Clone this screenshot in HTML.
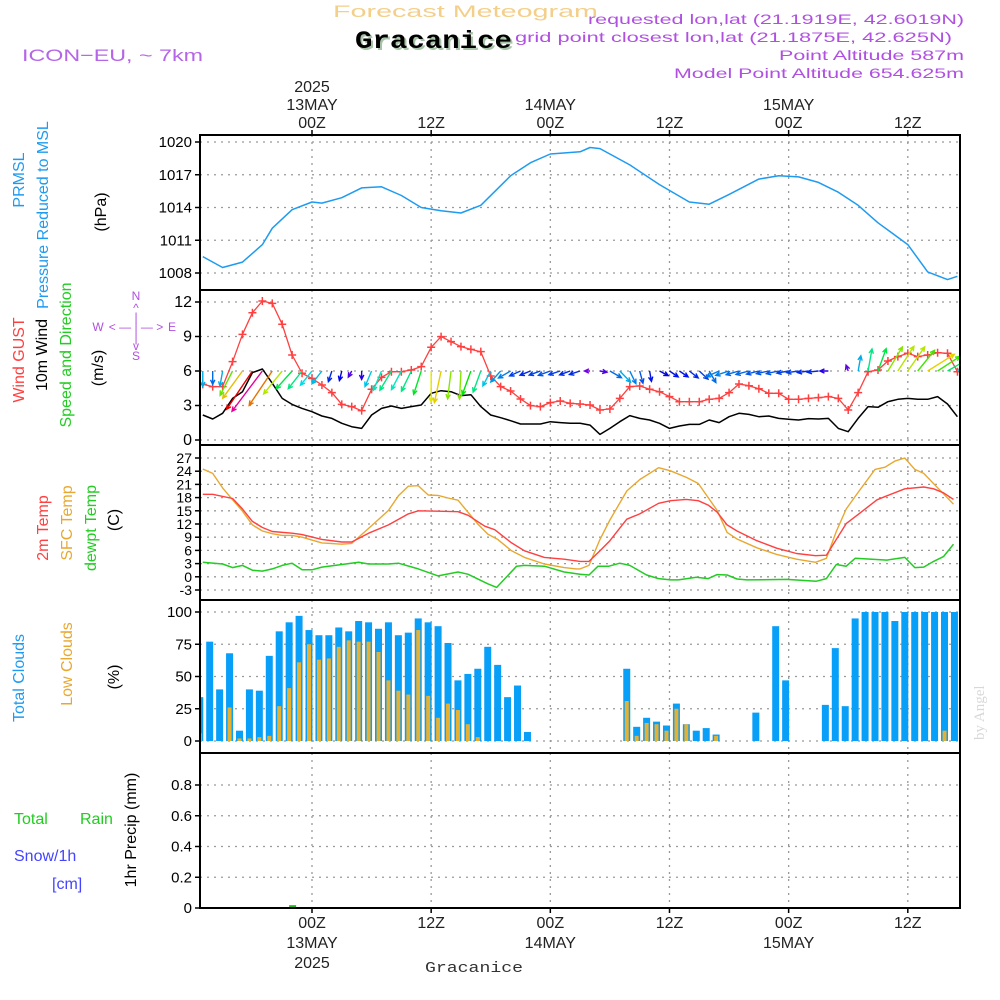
<!DOCTYPE html>
<html><head><meta charset="utf-8"><style>
html,body{margin:0;padding:0;background:#fff;}
svg{display:block;font-family:"Liberation Sans",sans-serif;}
</style></head><body>
<svg id="chart" width="1000" height="1000" viewBox="0 0 1000 1000" xmlns="http://www.w3.org/2000/svg">
<rect width="1000" height="1000" fill="#fff"/>
<text x="333" y="17" fill="#f3cf8a" font-size="17" textLength="265" lengthAdjust="spacingAndGlyphs">Forecast Meteogram</text>
<text x="357" y="50" fill="#a8c4a8" font-family="Liberation Mono" font-weight="bold" font-size="25" textLength="157" lengthAdjust="spacingAndGlyphs">Gracanice</text>
<text x="355" y="48" fill="#000" font-family="Liberation Mono" font-weight="bold" font-size="25" textLength="157" lengthAdjust="spacingAndGlyphs">Gracanice</text>
<text x="22" y="61" fill="#b565e8" font-size="17" textLength="181" lengthAdjust="spacingAndGlyphs">ICON−EU, ~ 7km</text>
<g fill="#b050e0" font-size="14">
<text x="588" y="24" textLength="376" lengthAdjust="spacingAndGlyphs">requested lon,lat (21.1919E, 42.6019N)</text>
<text x="515" y="42" textLength="437" lengthAdjust="spacingAndGlyphs">grid point closest lon,lat (21.1875E, 42.625N)</text>
<text x="779" y="60" textLength="185" lengthAdjust="spacingAndGlyphs">Point Altitude 587m</text>
<text x="674" y="78" textLength="290" lengthAdjust="spacingAndGlyphs">Model Point Altitude 654.625m</text>
</g>
<text transform="translate(984,740) rotate(-90)" fill="#d8d8d8" font-family="Liberation Serif" font-size="15">by Angel</text>
<text x="425" y="972" fill="#333" font-family="Liberation Mono" font-size="15" textLength="98" lengthAdjust="spacingAndGlyphs">Gracanice</text>
<g font-size="16" text-anchor="middle">
<text transform="translate(24,180) rotate(-90)" fill="#1e9bf0">PRMSL</text>
<text transform="translate(48,215) rotate(-90)" fill="#1e9bf0">Pressure Reduced to MSL</text>
<text transform="translate(106,212) rotate(-90)" fill="#000">(hPa)</text>
<text transform="translate(24,360) rotate(-90)" fill="#ff4040">Wind GUST</text>
<text transform="translate(47,355) rotate(-90)" fill="#000">10m Wind</text>
<text transform="translate(71,355) rotate(-90)" fill="#22cc22">Speed and Direction</text>
<text transform="translate(103,368) rotate(-90)" fill="#000">(m/s)</text>
<text transform="translate(48,528) rotate(-90)" fill="#ff4040">2m Temp</text>
<text transform="translate(72,523) rotate(-90)" fill="#e8a830">SFC Temp</text>
<text transform="translate(96,528) rotate(-90)" fill="#22cc22">dewpt Temp</text>
<text transform="translate(119,520) rotate(-90)" fill="#000">(C)</text>
<text transform="translate(24,678) rotate(-90)" fill="#1e9bf0">Total Clouds</text>
<text transform="translate(72,664) rotate(-90)" fill="#e8a830">Low Clouds</text>
<text transform="translate(119,677) rotate(-90)" fill="#000">(%)</text>
<text transform="translate(136,830) rotate(-90)" fill="#000">1hr Precip (mm)</text>
</g>
<g font-size="16">
<text x="14" y="824" fill="#22cc22">Total</text>
<text x="80" y="824" fill="#22cc22">Rain</text>
<text x="14" y="861" fill="#4444ff">Snow/1h</text>
<text x="52" y="889" fill="#4444ff">[cm]</text>
</g>
<g fill="#b050e0" font-size="12" text-anchor="middle">
<text x="136" y="300">N</text><text x="136" y="312">^</text><text x="136" y="321">|</text>
<text x="98" y="331">W</text><text x="136" y="331">&lt; — | — &gt;</text><text x="172" y="331">E</text>
<text x="136" y="342">|</text><text x="136" y="350">v</text><text x="136" y="360">S</text>
</g>
<g id="plot"></g>
</svg>
<script>
const timeTickHours = [0, 12, 24, 36, 48, 60];
const timeTickLabels = ["00Z", "12Z", "00Z", "12Z", "00Z", "12Z"];
const dateTickHours = [0, 24, 48];
const dateTickLabels = ["13MAY", "14MAY", "15MAY"];
const startHour = -11;

const pressHours = [-11,-9,-7,-5,-4,-2,0,1,3,5,7,9,11,13,15,17,20,22,24,27,28,29,32,35,38,40,42,45,47,49,51,53,55,57,60,62,64,65];
const pressVals = [1009.5,1008.5,1009.0,1010.6,1012.1,1013.8,1014.5,1014.4,1014.9,1015.8,1015.9,1015.1,1014.0,1013.7,1013.5,1014.2,1016.9,1018.1,1018.9,1019.1,1019.5,1019.4,1017.9,1016.1,1014.5,1014.3,1015.2,1016.6,1016.9,1016.8,1016.3,1015.4,1014.2,1012.6,1010.6,1008.1,1007.4,1007.7];
const pressTicks = [1008, 1011, 1014, 1017, 1020];

const gustVals = [4.84,4.64,4.64,6.81,9.19,11.07,12.09,11.88,10.06,7.39,5.80,5.36,4.78,4.12,3.10,2.90,2.55,4.41,5.45,5.94,5.94,6.09,6.38,8.06,8.99,8.55,8.12,7.88,7.68,5.57,4.64,4.26,3.57,2.99,2.90,3.25,3.39,3.19,3.13,
3.04,2.61,2.70,3.62,4.64,4.70,4.41,4.20,3.77,3.33,3.33,3.33,3.54,3.62,4.12,4.87,4.72,4.46,4.06,4.06,3.54,3.54,3.62,3.68,3.77,3.62,2.61,4.12,5.94,6.09,6.87,7.25,7.54,7.25,7.39,7.59,7.54,5.94];
const windVals = [2.17,1.83,2.32,3.62,4.20,5.86,6.17,4.93,3.62,3.10,2.75,2.46,2.09,1.88,1.45,1.16,1.01,2.17,2.75,2.96,2.75,2.90,3.04,4.06,4.29,4.20,3.86,3.94,2.90,2.17,1.94,1.68,1.39,1.39,1.39,1.59,1.51,1.45,1.45,
1.30,0.49,1.01,1.59,2.12,1.88,1.74,1.45,1.01,1.22,1.36,1.36,1.74,1.51,2.03,2.32,2.23,2.03,2.09,1.88,1.80,1.74,1.86,1.83,1.88,1.01,0.72,1.88,2.90,2.84,3.33,3.54,3.62,3.54,3.54,3.77,3.13,2.03];
const windTicks = [0, 3, 6, 9, 12];
const arrowHours = [-11,-10,-9,-8,-7,-6,-5,-4,-3,-2,-1,0,1,2,3,4,5,6,7,8,9,10,11,12,13,14,15,16,17,18,19,20,21,22,23,24,25,26,27,28,29,30,31,32,33,34,35,36,37,38,39,40,41,42,43,44,45,46,47,48,49,50,51,52,54,55,56,57,58,59,60,61,62,63,64,65];
const arrowDir = [180,180,190,207,216,214,217,214,219,222,218,219,218,198,194,209,180,203,203,211,208,206,198,180,192,187,183,200,200,208,222,240,246,248,250,250,252,250,252,270,100,120,136,154,165,170,118,124,124,128,133,150,246,252,254,255,256,258,258,260,262,262,264,270,340,10,10,20,31,33,35,39,58,57,60,45];
const arrowSpd = [2.2,1.9,2.2,3.9,4.8,6.6,7.2,5.9,4.2,3.4,3.2,2.6,2.3,1.6,1.4,1.0,1.2,2.4,3.0,3.2,3.0,3.2,3.5,4.4,4.6,4.0,4.0,3.6,3.2,2.4,2.1,2.0,1.7,1.6,1.7,1.8,1.7,1.6,1.6,0.8,1.0,1.9,2.2,2.0,1.8,1.5,1.4,1.5,1.5,1.6,1.7,1.9,2.0,2.0,1.9,1.9,1.8,1.8,1.8,1.7,1.7,1.6,1.6,1.2,0.9,2.2,3.2,3.4,4.0,4.2,4.2,3.8,4.5,3.8,3.3,2.5];

const t2Hours = [-11,-10,-8,-7,-6,-5,-4,-2,-1,1,3,4,5.7,7.7,9.7,10.7,12.7,14.7,15.7,17.4,18.4,20.1,21.4,23.4,25.4,27,27.9,29,30,31.7,33,34.9,36.1,37.7,38.9,39.9,40.8,41.8,42.8,44.8,46.8,48.8,50.7,51.8,53.8,54.9,56.9,57.9,59.7,61.6,62.6,63.6,64.6];
const t2Vals = [18.75,18.75,17.8,15.4,12.6,11.2,10.3,9.9,9.6,8.5,7.9,7.9,9.9,11.8,14.3,15.0,14.9,14.8,14.0,11.5,10.7,7.7,5.9,4.4,4.0,3.5,3.5,5.9,8.2,13.1,14.3,16.7,17.3,17.6,17.3,16.3,14.7,11.8,10.4,8.2,6.5,5.3,4.8,4.9,12.1,14.0,17.5,18.4,20.0,20.4,20.0,19.1,17.6];
const sfcHours = [-11,-10,-9,-8,-7,-6,-5,-4,-3,-2,-1,1,3,4,5.7,7.7,8.7,9.7,10.7,11.7,12.7,13.7,14.7,15.7,16.7,17.7,18.7,20.1,21.4,23.4,25.4,26.6,27,27.9,29,30,31.7,33,34.9,36.1,37.7,38.9,39.9,40.8,41.8,42.8,44.8,46.8,48.8,50.7,51.8,52.8,53.8,54.9,56.7,57.7,58.7,59.7,60.7,61.6,64.6];
const sfcVals = [24.5,23.5,20.2,17.5,14.9,11.8,10.4,9.8,9.4,9.4,9.0,7.7,7.4,7.6,11.0,15.1,18.4,20.6,20.7,18.6,18.5,17.9,17.4,14.7,12.0,9.7,8.5,5.9,4.4,2.9,2.1,1.8,1.8,2.6,8.5,12.9,19.5,22.1,24.8,24.1,22.6,21.2,18.0,15.1,10.1,8.6,6.6,5.1,4.0,3.3,4.2,10.3,15.4,18.9,24.4,24.9,26.3,27.0,24.4,23.5,16.5];
const dewHours = [-11,-9,-8,-7,-6,-5,-4,-3,-2,-1,0,1,3,4.7,5.7,7.7,8.7,10.7,12.7,14.7,15.7,17.7,18.6,20.6,21.4,23.4,25.4,27,27.9,28.8,29.9,31,32,33.7,34.9,36.1,36.9,38.7,39.9,40.8,41.8,42.8,43.8,47.8,50.8,51.8,52.8,53.8,54.7,57.9,59.7,60.7,61.6,62.6,63.6,64.6];
const dewVals = [3.3,2.9,2.1,2.6,1.5,1.3,1.8,2.6,3.1,1.6,1.6,2.2,2.8,3.3,2.9,2.9,3.1,1.8,0.2,1.1,0.6,-1.6,-2.4,2.4,2.6,2.4,1.1,0.6,0.4,2.4,2.4,3.1,2.6,0.4,-0.4,-0.7,-0.7,-0.1,-0.4,0.5,0.4,-0.5,-0.7,-0.6,-1.0,-0.4,2.8,2.4,4.2,3.8,4.4,2.1,2.2,3.5,4.6,7.4];
const tempTicks = [-3,0,3,6,9,12,15,18,21,24,27];

const totalCloud = [34,77,40,68,8,40,39,66,85,92,97,86,82,82,88,85,93,92,87,92,82,84,95,92,89,76,47,52,56,73,59,34,43,7,0,0,0,0,0,0,0,0,0,56,11,18,15,12,29,13,8,10,5,0,0,0,22,0,89,47,0,0,0,28,72,27,95,100,100,100,93,100,100,100,100,100,100];
const lowCloud = [6,0,0,26,2,2,3,4,27,41,61,75,63,64,73,78,77,77,69,47,39,36,86,35,18,29,24,13,3,0,0,0,0,0,0,0,0,0,0,0,0,0,0,31,4,14,13,8,25,13,0,0,4,0,0,0,0,0,0,0,0,0,0,0,0,0,0,0,0,0,0,0,0,0,0,8,0];
const cloudTicks = [0, 25, 50, 75, 100];

const precipHours = [-2];
const precipVals = [0.012];
const precipTicks = [0, 0.2, 0.4, 0.6, 0.8];
const precipTickLabels = ["0", "0.2", "0.4", "0.6", "0.8"];

const X0 = 200, X1 = 960;
const X = h => 312 + h * 9.93;
const panels = [
  {name:'pressure', top:135, bot:290, y:v => 273 - (v - 1008) * 131/12},
  {name:'wind', top:290, bot:445, y:v => 440 - v * 11.5},
  {name:'temperature', top:445, bot:600, y:v => 590 - (v + 3) * 4.4},
  {name:'clouds', top:600, bot:753, y:v => 741 - v * 1.29},
  {name:'precip', top:753, bot:908, y:v => 908 - v * 153.75}
];
const NS = 'http://www.w3.org/2000/svg';
const plot = document.getElementById('plot');
function mk(tag, attrs, parent) {
  const e = document.createElementNS(NS, tag);
  for (const k in attrs) e.setAttribute(k, attrs[k]);
  (parent || plot).appendChild(e);
  return e;
}
const defs = mk('defs', {});
const cp = mk('clipPath', {id:'clip'}, defs);
mk('rect', {x:X0+1, y:135, width:X1-X0-2, height:773}, cp);

panels.forEach((p) => {
  timeTickHours.forEach(h => {
    const l = mk('line', {x1:X(h), x2:X(h), y1:p.top, y2:p.bot, stroke:'#999', 'stroke-width':1.3, 'stroke-dasharray':'2,5'});
    
    
  });
});
function hgrid(p, ticks, labels, fs) {
  ticks.forEach((v, i) => {
    const y = p.y(v);
    const l = mk('line', {x1:X0, x2:X1, y1:y, y2:y, stroke:'#999', 'stroke-width':1.3, 'stroke-dasharray':'2,5'});
    
    
    const tk = mk('line', {x1:X0-5, x2:X0, y1:y, y2:y, stroke:'#000', 'stroke-width':1.5});
    
    
    const t = mk('text', {x:X0-8, y:y+5, 'text-anchor':'end', 'font-size':fs, fill:'#000'});
    t.textContent = labels ? labels[i] : String(v);
    
    
  });
}
hgrid(panels[0], pressTicks, null, 15);
hgrid(panels[1], windTicks, null, 16);
hgrid(panels[2], tempTicks, null, 14);
hgrid(panels[3], cloudTicks, null, 15);
hgrid(panels[4], precipTicks, precipTickLabels, 15);

const g = mk('g', {'clip-path':'url(#clip)'});
function poly(hours, vals, p, color, name, w) {
  const pts = hours.map((h, i) => X(h).toFixed(1) + ',' + p.y(vals[i]).toFixed(1)).join(' ');
  const e = mk('polyline', {points:pts, fill:'none', stroke:color, 'stroke-width':w || 1.4, 'stroke-linejoin':'round'}, g);
  
  
  return e;
}
const hourly = n => Array.from({length:n}, (_, i) => startHour + i);

poly(pressHours, pressVals, panels[0], '#1e9bf0', 'pressure-line', 1.5);

const wp = panels[1];
const gh = hourly(gustVals.length);
poly(hourly(windVals.length), windVals, wp, '#000', 'wind-10m-line', 1.5);
poly(gh, gustVals, wp, '#ff4040', 'gust-line', 1.3);
gh.forEach((h, i) => {
  const x = X(h), y = wp.y(gustVals[i]);
  const m = mk('path', {d:`M${x-4},${y}H${x+4}M${x},${y-4}V${y+4}`, stroke:'#ff4040', 'stroke-width':1.5}, g);
  
  
});
const hueStops = [[0.8,270],[1.5,235],[2.2,195],[3.0,170],[3.5,130],[4.0,85],[4.5,55],[5.9,30],[6.6,0],[7.2,-40]];
function hueFor(s) {
  if (s <= hueStops[0][0]) return hueStops[0][1];
  for (let i = 1; i < hueStops.length; i++) {
    if (s <= hueStops[i][0]) {
      const [a, ha] = hueStops[i-1], [b, hb] = hueStops[i];
      return ha + (hb - ha) * (s - a) / (b - a);
    }
  }
  return hueStops[hueStops.length-1][1];
}
arrowHours.forEach((h, i) => {
  const x0 = X(h), y0 = wp.y(6);
  const L = arrowSpd[i] * 7;
  const a = arrowDir[i] * Math.PI / 180;
  const dx = Math.sin(a) * L, dy = -Math.cos(a) * L;
  const x1 = x0 + dx, y1 = y0 + dy;
  const col = `hsl(${(hueFor(arrowSpd[i]) + 360) % 360},100%,45%)`;
  const hl = 5, ang = Math.atan2(dy, dx);
  const hx1 = x1 - hl * Math.cos(ang - 0.45), hy1 = y1 - hl * Math.sin(ang - 0.45);
  const hx2 = x1 - hl * Math.cos(ang + 0.45), hy2 = y1 - hl * Math.sin(ang + 0.45);
  const ar = mk('path', {d:`M${x0},${y0}L${x1},${y1}M${hx1},${hy1}L${x1},${y1}L${hx2},${hy2}`, stroke:col, 'stroke-width':1.4, fill:'none'}, g);
  
  
});

const tp = panels[2];
poly(dewHours, dewVals, tp, '#22cc22', 'dewpoint-line', 1.5);
poly(sfcHours, sfcVals, tp, '#e8a830', 'sfc-temp-line', 1.4);
poly(t2Hours, t2Vals, tp, '#ff4040', 'temp-2m-line', 1.4);

const cpn = panels[3];
totalCloud.forEach((v, i) => {
  const xc = X(startHour + i) - 3;
  if (v > 0) {
    const r = mk('rect', {x:xc-3.5, y:cpn.y(v), width:7, height:cpn.y(0)-cpn.y(v), fill:'#079ff7'}, g);
    
    
  }
  const lv = lowCloud[i];
  if (lv > 0) {
    const r2 = mk('rect', {x:xc-2, y:cpn.y(lv), width:4, height:cpn.y(0)-cpn.y(lv), fill:'#e8b030'}, g);
    
    
  }
});

const pp = panels[4];
precipHours.forEach((h, i) => {
  const r = mk('rect', {x:X(h)-3, y:pp.y(precipVals[i])-1, width:7, height:pp.y(0)-pp.y(precipVals[i])+1, fill:'#22bb22'}, g);
  
  
});

panels.forEach(p => {
  const f = mk('rect', {x:X0, y:p.top, width:X1-X0, height:p.bot-p.top, fill:'none', stroke:'#000', 'stroke-width':2});
  
  
});

timeTickHours.forEach((h, i) => {
  const tk = mk('line', {x1:X(h), x2:X(h), y1:130, y2:135, stroke:'#000', 'stroke-width':1.5});
  
  
  const t = mk('text', {x:X(h), y:128, 'text-anchor':'middle', 'font-size':16, fill:'#222'});
  t.textContent = timeTickLabels[i];
  
  
  const tb = mk('line', {x1:X(h), x2:X(h), y1:908, y2:913, stroke:'#000', 'stroke-width':1.5});
  
  
  const b = mk('text', {x:X(h), y:928, 'text-anchor':'middle', 'font-size':16, fill:'#222'});
  b.textContent = timeTickLabels[i];
  
  
});
dateTickHours.forEach((h, i) => {
  const t = mk('text', {x:X(h), y:110, 'text-anchor':'middle', 'font-size':16, fill:'#222'});
  t.textContent = dateTickLabels[i];
  
  
  const b = mk('text', {x:X(h), y:948, 'text-anchor':'middle', 'font-size':16, fill:'#222'});
  b.textContent = dateTickLabels[i];
  
  
});
const yt = mk('text', {x:X(0), y:92, 'text-anchor':'middle', 'font-size':16, fill:'#222'});
yt.textContent = '2025';


const yb = mk('text', {x:X(0), y:968, 'text-anchor':'middle', 'font-size':16, fill:'#222'});
yb.textContent = '2025';


</script>
</body></html>
